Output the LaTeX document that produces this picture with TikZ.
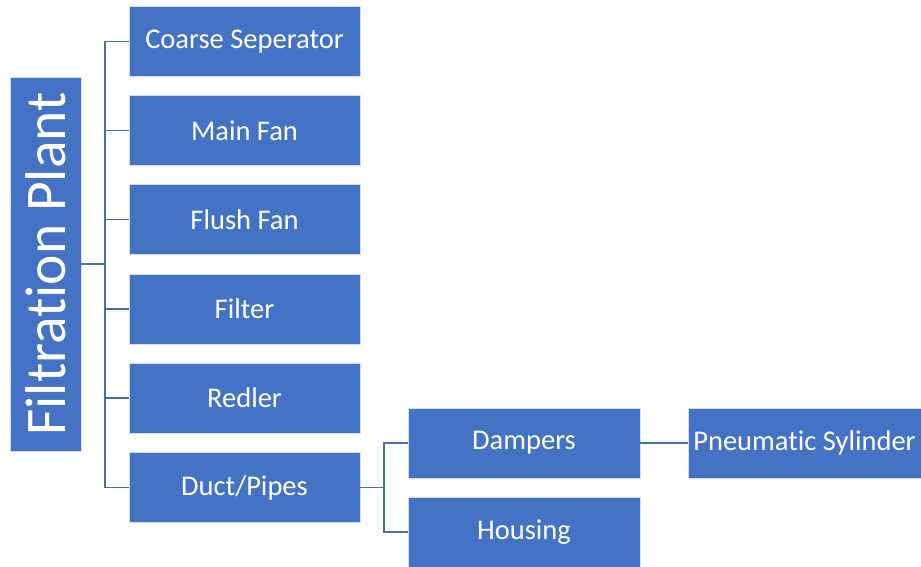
\documentclass[tikz,border=0pt]{standalone}
\usepackage{fontspec}
\setmainfont[Ligatures={NoCommon}]{Carlito}
\definecolor{boxblue}{HTML}{4472C4}
\definecolor{lineblue}{HTML}{4A6FB0}
\begin{document}
\begin{tikzpicture}[x=1pt,y=-1pt,
  box/.style={rectangle, fill=boxblue, draw=white!75!boxblue, line width=0.6pt, text=white,
    minimum width=231pt, minimum height=70pt, inner sep=0pt, font=\fontsize{28.5}{34}\selectfont},
  conn/.style={draw=lineblue, line width=1.4pt}]
\useasboundingbox (0,0) rectangle (921,567);
\node[box, minimum width=71pt, minimum height=374pt] (fp) at (45.5,264) {};
\node[rotate=90, text=white, inner sep=0pt, font=\fontsize{57.5}{60}\selectfont] (fpt) at (fp.center) {Filtration Plant};
\node[box] (cs) at (244.5,41.5) {Coarse Seperator};
\node[box] (mf) at (244.5,130.5) {Main Fan};
\node[box] (ff) at (244.5,219.5) {Flush Fan};
\node[box] (fi) at (244.5,309) {Filter};
\node[box] (re) at (244.5,398) {Redler};
\node[box] (dp) at (244.5,487.5) {Duct/Pipes};
\node[box, minimum width=232pt] (da) at (524,443) {Dampers};
\node[box, minimum width=232pt] (ho) at (524,532) {Housing};
\node[box, minimum width=233pt] (ps) at (804.5,443) {Pneumatic Sylinder};
\coordinate (t1) at (105,264);
\coordinate (t2) at (384,487.5);
\draw[conn] (fp.east) -- (t1);
\foreach \n in {cs,mf,ff,fi,re,dp} {
  \draw[conn] (\n.west) -- (t1 |- \n.west) -- (t1);
}
\draw[conn] (dp.east) -- (t2);
\foreach \n in {da,ho} {
  \draw[conn] (\n.west) -- (t2 |- \n.west) -- (t2);
}
\draw[conn] (da.east) -- (ps.west);
\end{tikzpicture}
\end{document}
